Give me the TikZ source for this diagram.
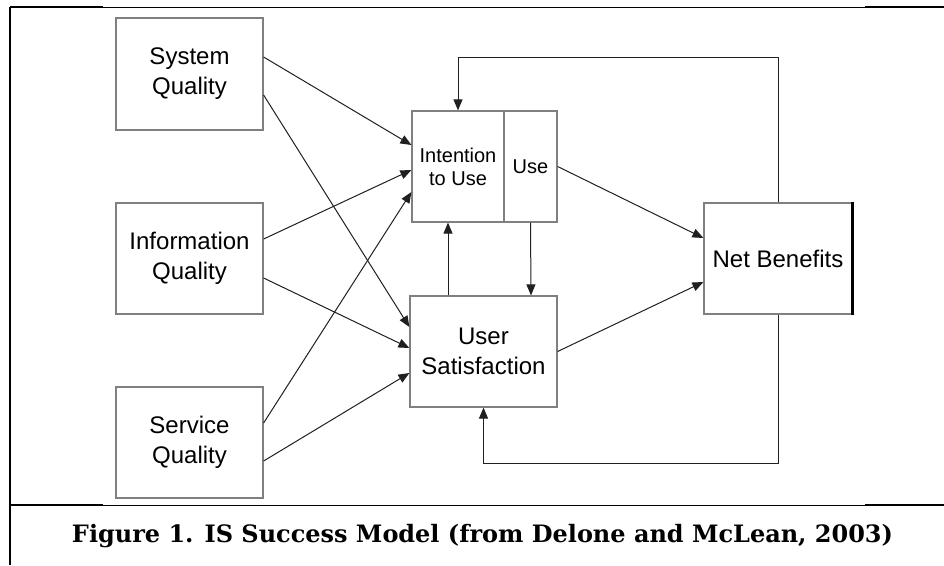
\documentclass[tikz,border=0pt]{standalone}
\usepackage{fontspec}
\setmainfont{Liberation Sans}
\newfontfamily\capfont{DejaVu Serif}
\usetikzlibrary{arrows.meta,calc}
\definecolor{boxgray}{HTML}{808080}
\definecolor{linedark}{HTML}{202020}
\begin{document}
\begin{tikzpicture}[x=1pt,y=-1pt,
  box/.style={draw=boxgray, line width=1.2pt, inner sep=0pt, align=center,
              text=black, font=\fontsize{24}{30}\selectfont},
  smallbox/.style={box, font=\fontsize{20}{23}\selectfont},
  arr/.style={draw=linedark, line width=1pt, -{Triangle[length=11pt,width=9pt]}},
  frame/.style={draw=black, line width=1pt},
  framethick/.style={draw=black, line width=2.2pt}]
\useasboundingbox (0,0) rectangle (944,565);
% frame
\draw[frame] (10,7) -- (944,7);
\draw[framethick] (10,7) -- (103,7);
\draw[framethick] (865,7) -- (944,7);
\draw[framethick] (10,7) -- (10,565);
\draw[frame] (10,505) -- (944,505);
\draw[framethick] (10,505) -- (103,505);
\draw[framethick] (865,505) -- (944,505);
% boxes
\node[box, minimum width=147pt, minimum height=112pt] (sq) at (189.5,74) {System\\Quality};
\node[box, minimum width=147pt, minimum height=111pt] (iq) at (189.5,258.5) {Information\\Quality};
\node[box, minimum width=147pt, minimum height=111pt] (svq) at (189.5,442.5) {Service\\Quality};
\node[smallbox, minimum width=92pt, minimum height=111pt] (int) at (458,166.5) {Intention\\to Use};
\node[smallbox, minimum width=53pt, minimum height=111pt] (use) at (530.5,166.5) {Use};
\node[box, minimum width=147pt, minimum height=111pt] (us) at (483.5,351.5) {User\\Satisfaction};
\node[box, minimum width=148pt, minimum height=111pt] (nb) at (778,258.5) {Net Benefits};
\draw[black, line width=2.4pt] (nb.north east) -- (nb.south east);
% connectors
\draw[arr] ([yshift=17pt]sq.east) -- ([yshift=21.5pt]int.west);
\draw[arr] ([yshift=-21pt]sq.east) -- ([yshift=24.5pt]us.west);
\draw[arr] ([yshift=19.5pt]iq.east) -- ([yshift=-3.5pt]int.west);
\draw[arr] ([yshift=-19.5pt]iq.east) -- ([yshift=3.5pt]us.west);
\draw[arr] ([yshift=19.5pt]svq.east) -- ([yshift=-25.5pt]int.west);
\draw[arr] ([yshift=-18.5pt]svq.east) -- ([yshift=-21.5pt]us.west);
\draw[arr] (use.east) -- ([yshift=20.5pt]nb.west);
\draw[arr] (us.east) -- ([yshift=-23.5pt]nb.west);
\draw[arr] ([xshift=-35.5pt]us.north) -- ([xshift=-10pt]int.south);
\draw[arr] (use.south) -- ([xshift=47.5pt]us.north);
\draw[arr] (nb.north) -- ++(0,-145) -| (int.north);
\draw[arr] (nb.south) -- ++(0,149) -| (us.south);
% caption
\node[anchor=base, inner sep=0pt] (cap) at (482.5,542)
  {\resizebox{821pt}{!}{\capfont\bfseries\fontsize{24}{30}\selectfont Figure 1. IS Success Model (from Delone and McLean, 2003)}};
\end{tikzpicture}
\end{document}
